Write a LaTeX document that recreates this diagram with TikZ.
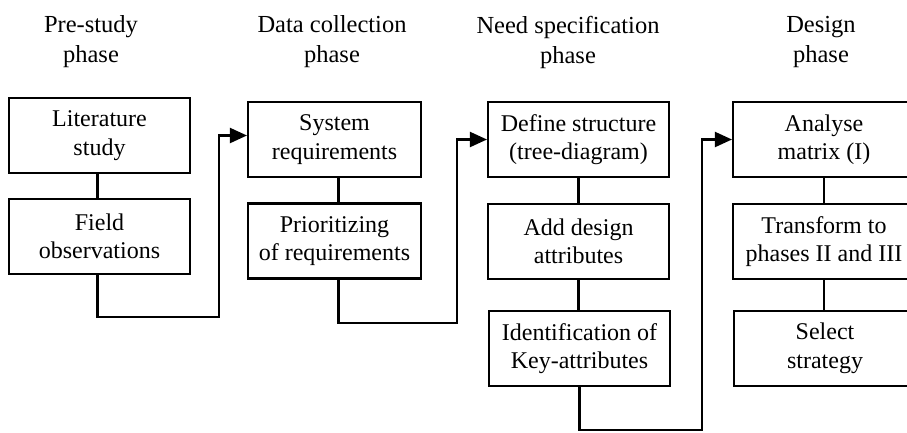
\documentclass[tikz,border=0pt]{standalone}
\usepackage{fontspec}
\setmainfont{Liberation Serif}
\usetikzlibrary{arrows.meta}
\tikzset{
  stepbox/.style={draw, line width=2.1pt, inner sep=0pt, minimum height=75pt,
    align=center, font=\fontsize{24}{28.5}\selectfont},
  phasetitle/.style={align=center, inner sep=0pt, font=\fontsize{24.5}{30}\selectfont},
  link/.style={line width=2.1pt},
  flow/.style={line width=2.1pt, -{Triangle[length=17pt,width=15pt]}}
}
\begin{document}
\begin{tikzpicture}[x=1pt,y=-1pt]
\clip (0,0) rectangle (907,432);
\fill[white] (0,0) rectangle (907,432);

% phase headings
\node[phasetitle] (t1) at (91,42) {Pre-study\\phase};
\node[phasetitle] (t2) at (332,42) {Data collection\\phase};
\node[phasetitle] (t3) at (568,42) {Need specification\\phase};
\node[phasetitle] (t4) at (821,42) {Design\\phase};

% pre-study phase
\node[stepbox, minimum width=181pt] (a1) at (99.5,135.5) {Literature\\study};
\node[stepbox, minimum width=181pt] (a2) at (99.5,236.5) {Field\\observations};

% data collection phase
\node[stepbox, minimum width=173pt] (b1) at (334.5,139.5) {System\\requirements};
\node[stepbox, minimum width=173pt] (b2) at (334.5,241) {Prioritizing\\of requirements};

% need specification phase
\node[stepbox, minimum width=181pt] (c1) at (578.5,139.5) {Define structure\\(tree-diagram)};
\node[stepbox, minimum width=181pt] (c2) at (578.5,241.5) {Add design\\attributes};
\node[stepbox, minimum width=181pt] (c3) at (579.5,348.5) {Identification of\\Key-attributes};

% design phase
\node[stepbox, minimum width=182pt] (d1) at (824,139.5) {Analyse\\matrix (I)};
\node[stepbox, minimum width=182pt] (d2) at (824,241.5) {Transform to\\phases II and III};
\node[stepbox, minimum width=182pt] (d3) at (825,348.5) {Select\\strategy};

% links inside each phase
\draw[link] ([xshift=-2pt]a1.south) -- ([xshift=-2pt]a2.north);
\draw[link] ([xshift=4pt]b1.south) -- ([xshift=4pt]b2.north);
\draw[link] (c1.south) -- (c2.north);
\draw[link] (c2.south) -- (c2.south |- c3.north);
\draw[link] (d1.south) -- (d2.north);
\draw[link] (d2.south) -- (d2.south |- d3.north);

% hand-over between phases
\coordinate (ab) at (219,317);
\coordinate (bc) at (457,323);
\coordinate (cd) at (702,430);
\draw[flow] ([xshift=-2pt]a2.south) |- (ab) |- ([yshift=4pt]b1.west);
\draw[flow] ([xshift=4pt]b2.south) |- (bc) |- (c1.west);
\draw[flow] (c3.south) |- (cd) |- (d1.west);
\end{tikzpicture}
\end{document}
